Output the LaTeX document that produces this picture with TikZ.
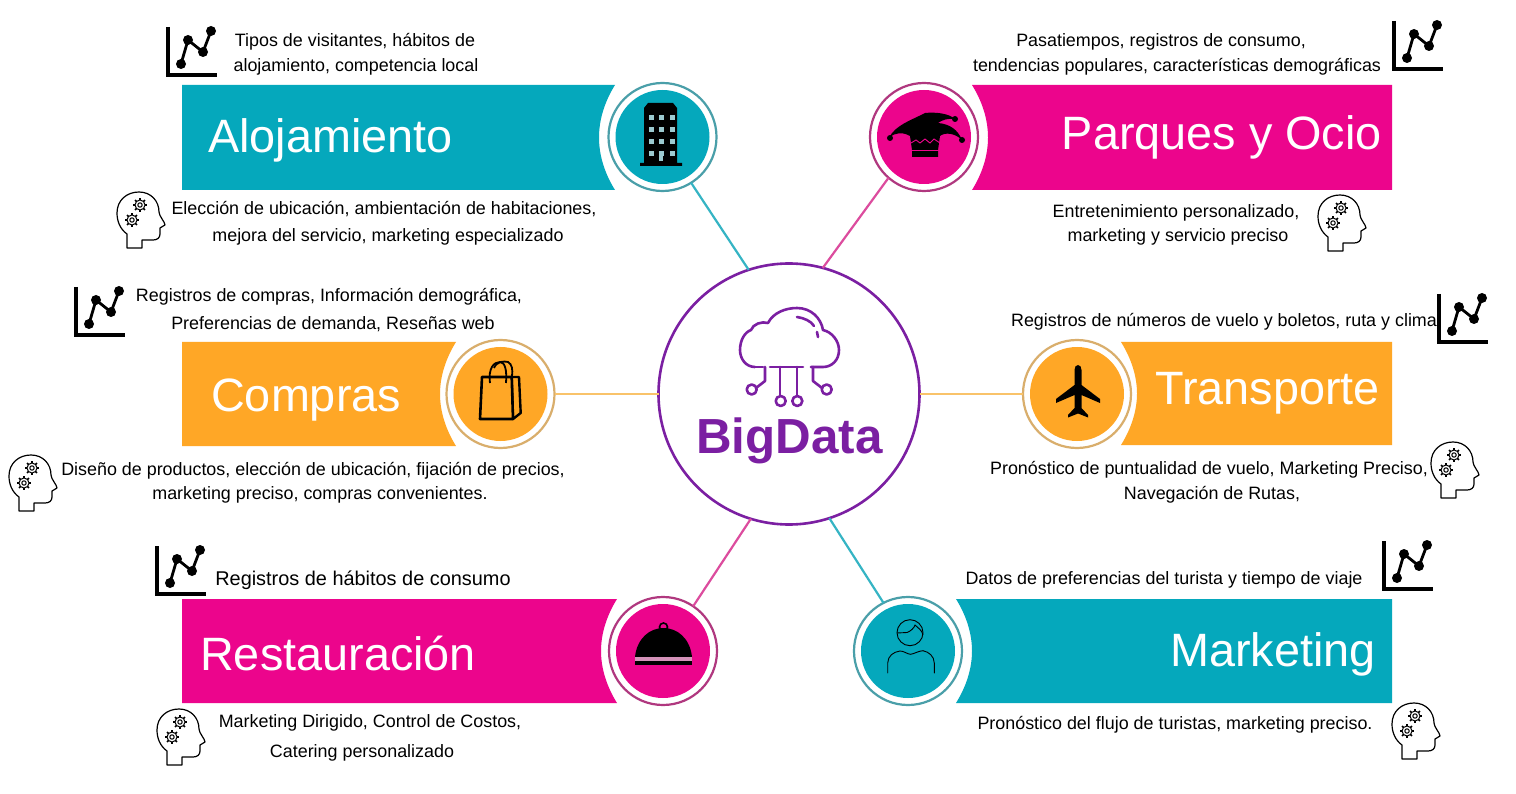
\documentclass[tikz,border=0pt]{standalone}
\usepackage{fontspec}
\setmainfont{Liberation Sans}
\definecolor{tealb}{HTML}{05A8BC}
\definecolor{tealr}{HTML}{4A9FA9}
\definecolor{tealc}{HTML}{35B4C4}
\definecolor{pinkb}{HTML}{EC058C}
\definecolor{pinkr}{HTML}{B0387F}
\definecolor{pinkc}{HTML}{DC4C9E}
\definecolor{orab}{HTML}{FFA726}
\definecolor{orar}{HTML}{D9AE6C}
\definecolor{orac}{HTML}{F9C36A}
\definecolor{purp}{HTML}{7B1FA2}
\tikzset{
  ringnode/.style={circle,draw,line width=2.2pt,fill=white,minimum size=108pt,inner sep=0pt,outer sep=0pt},
  discnode/.style={circle,minimum size=94pt,inner sep=0pt,outer sep=0pt},
  hubnode/.style={circle,draw=purp,line width=2.6pt,fill=white,minimum size=261pt,inner sep=0pt,outer sep=0pt},
  lbl/.style={anchor=base,inner sep=0pt,text=black,font=\fontsize{17.9}{20}\selectfont},
  lblb/.style={lbl,font=\fontsize{19.9}{22}\selectfont},
  ttl/.style={inner sep=0pt,text=white,font=\fontsize{46.8}{50}\selectfont},
  link/.style={line width=2.2pt},
  axisline/.style={line width=3.4pt,black},
  headline/.style={line width=1.2pt,black},
  cloudline/.style={purp,line width=2.6pt,line cap=round,line join=round},
}
\newcommand{\chartmark}[2]{\begin{scope}[shift={(#1,#2)}]
  \draw[axisline] (0,0) -- (0,48) -- (49,48);
  \draw[line width=2.8pt,black,line join=round] (13,37) -- (20,13) -- (35,25) -- (43,4);
  \foreach \p in {(13,37),(20,13),(35,25),(43,4)} \fill[black] \p circle (5pt);
\end{scope}}
\newcommand{\gearmark}[2]{%
  \draw[line width=1pt,black] (#1,#2) circle (5pt) (#1,#2) circle (2.2pt);
  \foreach \a in {0,45,...,315} \draw[line width=1.6pt,black,shift={(#1,#2)}] (\a:4.8pt) -- (\a:7pt);}
\newcommand{\headmark}[2]{\begin{scope}[shift={(#1,#2)}]
  \draw[headline,line join=round] (10,56) -- (10,42) .. controls (3,37) and (0,29) .. (0,21)
    .. controls (0,8) and (10,0) .. (22,0) .. controls (34,0) and (42,9) .. (42,20)
    .. controls (42,24) and (48,30) .. (48,33) -- (43,36) -- (43,42)
    .. controls (43,46) and (40,48) .. (36,48) -- (25,48) -- (25,56) -- cycle;
  \gearmark{23}{13}\gearmark{15}{28}
\end{scope}}
\newcommand{\bandL}[5]{% x-end y0 y1 colour x-start
  \fill[#4] (#5,#2) -- (#1,#2) .. controls ({#1-10},{#2+16}) and ({#1-16},{#2+34}) .. ({#1-16},{(#2+#3)/2})
    .. controls ({#1-16},{#3-34}) and ({#1-10},{#3-16}) .. (#1,#3) -- (#5,#3) -- cycle;}
\newcommand{\bandR}[5]{%
  \fill[#4] (#5,#2) -- (#1,#2) .. controls ({#1+10},{#2+16}) and ({#1+16},{#2+34}) .. ({#1+16},{(#2+#3)/2})
    .. controls ({#1+16},{#3-34}) and ({#1+10},{#3-16}) .. (#1,#3) -- (#5,#3) -- cycle;}
\newcommand{\station}[5]{% name x y fill ring
  \node[ringnode,draw=#5] (#1) at (#2,#3) {};
  \node[discnode,fill=#4] (#1d) at (#2,#3) {};}
\begin{document}
\begin{tikzpicture}[x=1pt,y=-1pt]
\useasboundingbox[fill=white] (0,0) rectangle (1516,794);
% bands
\bandL{615}{85}{190}{tealb}{182}
\bandR{972}{85}{190}{pinkb}{1392}
\bandL{456}{342}{446}{orab}{182}
\bandR{1121}{342}{445}{orab}{1392}
\bandL{617}{599}{703}{pinkb}{182}
\bandR{956}{599}{703}{tealb}{1392}
% stations
\station{aloj}{662.5}{137}{tealb}{tealr}
\station{parq}{924}{137}{pinkb}{pinkr}
\station{comp}{500.5}{394}{orab}{orar}
\station{tran}{1077}{394}{orab}{orar}
\station{rest}{663}{651}{pinkb}{pinkr}
\station{mark}{908}{651}{tealb}{tealr}
\node[hubnode] (hub) at (789,394) {};
% connectors
\draw[link,tealc] (aloj.-58) -- (hub.108);
\draw[link,pinkc] (parq.229) -- (hub.75);
\draw[link,orac] (comp.east) -- (hub.west);
\draw[link,orac] (tran.west) -- (hub.east);
\draw[link,pinkc] (rest.56) -- (hub.253);
\draw[link,tealc] (mark.117) -- (hub.-72.5);
% titles
\node[ttl,anchor=base west] (tAloj) at (208,153) {Alojamiento};
\node[ttl,anchor=base east] (tParq) at (1382,150) {Parques y Ocio};
\node[ttl,anchor=base west] (tComp) at (211,411) {Compras};
\node[ttl,anchor=base east] (tTran) at (1380,404) {Transporte};
\node[ttl,anchor=base west] (tRest) at (200,670) {Restauración};
\node[ttl,anchor=base east] (tMark) at (1376,666) {Marketing};
% hub content
\node[anchor=base,inner sep=0pt,text=purp,font=\fontsize{49.3}{52}\selectfont\bfseries] (hubt) at (789.5,453) {BigData};
\draw[cloudline] (755,367) .. controls (746,367) and (740,359) .. (740,350)
  .. controls (740,340) and (745,332) .. (751,330)
  .. controls (753,324) and (762,321) .. (768,323)
  .. controls (773,313) and (785,308) .. (797,308)
  .. controls (811,308) and (821,318) .. (823,330)
  .. controls (832,332) and (839,341) .. (839,350)
  .. controls (839,360) and (832,367) .. (823,367) -- (811,367);
\draw[cloudline] (755,367) -- (763,367);
\draw[cloudline] (770,367) -- (803,367);
\draw[cloudline] (797,317) .. controls (804,318) and (811,321) .. (814,326);
\draw[cloudline] (817,332) -- (818,337);
\draw[cloudline] (765,367) -- (765,381) -- (756,388);
\draw[cloudline] (780,367) -- (780,396);
\draw[cloudline] (797,367) -- (797,396);
\draw[cloudline] (813,367) -- (813,381) -- (822,388);
\foreach \c in {(751.7,389.5),(780.7,401),(797.3,401),(826.7,389.5)}
  \draw[cloudline] \c circle (5pt);
% building
\fill[black] (644,163) -- (644,108) -- (648,103) -- (673,103) -- (677,108) -- (677,163) -- (682,163) -- (682,166) -- (640,166) -- (640,163) -- cycle;
\foreach \wy in {118,130,142,154} \foreach \wx in {651,661,672}
  \fill[white!45!tealr] (\wx-2.5,\wy-2.5) rectangle (\wx+2.5,\wy+2.5);
\fill[white!45!tealr] (659,152) rectangle (663,161);
% jester hat
\fill[black] (889,138) .. controls (895,125) and (912,120) .. (925,113)
  .. controls (935,112) and (948,113) .. (955,119)
  .. controls (948,118) and (942,120) .. (938,123)
  .. controls (950,124) and (958,130) .. (962,140)
  .. controls (955,133) and (945,132) .. (940,136)
  -- (938,150) -- (938,157) -- (912,157) -- (912,150) -- (910,136)
  .. controls (903,132) and (895,132) .. (889,138) -- cycle;
\fill[black] (890,138) circle (3pt) (962,140) circle (3pt) (955,119) circle (3pt);
\draw[pinkb,line width=.9pt] (911,143) -- (916,140) -- (920,143) -- (925,139) -- (930,143) -- (934,139) -- (940,143);
\draw[pinkb,line width=1pt] (911,150.5) -- (939,150.5);
% shopping bag
\draw[black,line width=2.4pt,line join=round,fill=orab] (511.7,377) -- (519,377) -- (520.7,413) -- (513,419) -- cycle;
\draw[black,line width=2.6pt,line join=round,fill=orab] (482,377) -- (511.7,377) -- (513,419) -- (480,419) -- cycle;
\draw[black,line width=1.8pt] (490,383) .. controls (488,368) and (494,362) .. (500,362) .. controls (505,362) and (507,370) .. (506,383);
\draw[black,line width=1.8pt] (494,368) .. controls (497,361) and (504,361) .. (508,362) .. controls (512,364) and (513,370) .. (512,376);
% plane
\fill[black,line join=round] (1078,365) .. controls (1080,365) and (1081.5,367) .. (1081.5,370)
  -- (1081.5,385) -- (1100,399) -- (1100,403) -- (1081.5,395) -- (1081.5,408) -- (1088,415) -- (1088,417.5) -- (1078,413.5)
  -- (1068,417.5) -- (1068,415) -- (1074.5,408) -- (1074.5,395) -- (1056,403) -- (1056,399) -- (1074.5,385) -- (1074.5,370)
  .. controls (1074.5,367) and (1076,365) .. (1078,365) -- cycle;
% cloche
\fill[black] (635,657) .. controls (637,638) and (650,628) .. (663.5,628) .. controls (677,628) and (690,638) .. (692,657) -- cycle;
\draw[black,line width=1.6pt] (663.5,627) circle (4pt);
\fill[white!45!pinkr] (635,657) rectangle (692,661);
\fill[black] (635,661) rectangle (692,665);
% person
\draw[black,line width=.9pt] (910,632.7) circle (13pt);
\draw[black,line width=.9pt] (897,633) -- (907,632.5) .. controls (911,631) and (914,628) .. (915,625) .. controls (918,628) and (922,630) .. (923,635);
\draw[black,line width=.9pt,line cap=round] (887.7,673) -- (887.7,663) .. controls (888,656) and (893,652) .. (900,651)
  .. controls (904,651) and (907,654) .. (910.5,654.3) .. controls (914,654) and (918,651) .. (923,650.7)
  .. controls (929,652) and (934,656) .. (934.3,663) -- (934.3,673);
% icons
\chartmark{168}{27}\chartmark{1394}{21}\chartmark{76}{287}\chartmark{1439}{294}\chartmark{157}{546}\chartmark{1384}{541}
\headmark{117}{192}\headmark{1318}{195}\headmark{9}{455}\headmark{1431}{442}\headmark{157}{709}\headmark{1392}{703}
% labels
\node[lbl] (a1) at (355,47) {Tipos de visitantes, hábitos de};
\node[lbl] (a2) at (356,72) {alojamiento, competencia local};
\node[lbl] (a3) at (384,215) {Elección de ubicación, ambientación de habitaciones,};
\node[lbl] (a4) at (388,242) {mejora del servicio, marketing especializado};
\node[lbl] (p1) at (1161,47) {Pasatiempos, registros de consumo,};
\node[lbl] (p2) at (1177,72) {tendencias populares, características demográficas};
\node[lbl] (p3) at (1176,218) {Entretenimiento personalizado,};
\node[lbl] (p4) at (1178,242) {marketing y servicio preciso};
\node[lbl] (c1) at (329,302) {Registros de compras, Información demográfica,};
\node[lbl] (c2) at (333,330) {Preferencias de demanda, Reseñas web};
\node[lbl] (c3) at (313,475) {Diseño de productos, elección de ubicación, fijación de precios,};
\node[lbl] (c4) at (320,499) {marketing preciso, compras convenientes.};
\node[lbl] (t1) at (1224,327) {Registros de números de vuelo y boletos, ruta y clima};
\node[lbl] (t2) at (1209,474) {Pronóstico de puntualidad de vuelo, Marketing Preciso,};
\node[lbl] (t3) at (1212,499) {Navegación de Rutas,};
\node[lblb] (r1) at (363,585) {Registros de hábitos de consumo};
\node[lbl] (r2) at (370,727) {Marketing Dirigido, Control de Costos,};
\node[lbl] (r3) at (362,757) {Catering personalizado};
\node[lbl] (m1) at (1164,584) {Datos de preferencias del turista y tiempo de viaje};
\node[lbl] (m2) at (1175,729) {Pronóstico del flujo de turistas, marketing preciso.};
\end{tikzpicture}
\end{document}
